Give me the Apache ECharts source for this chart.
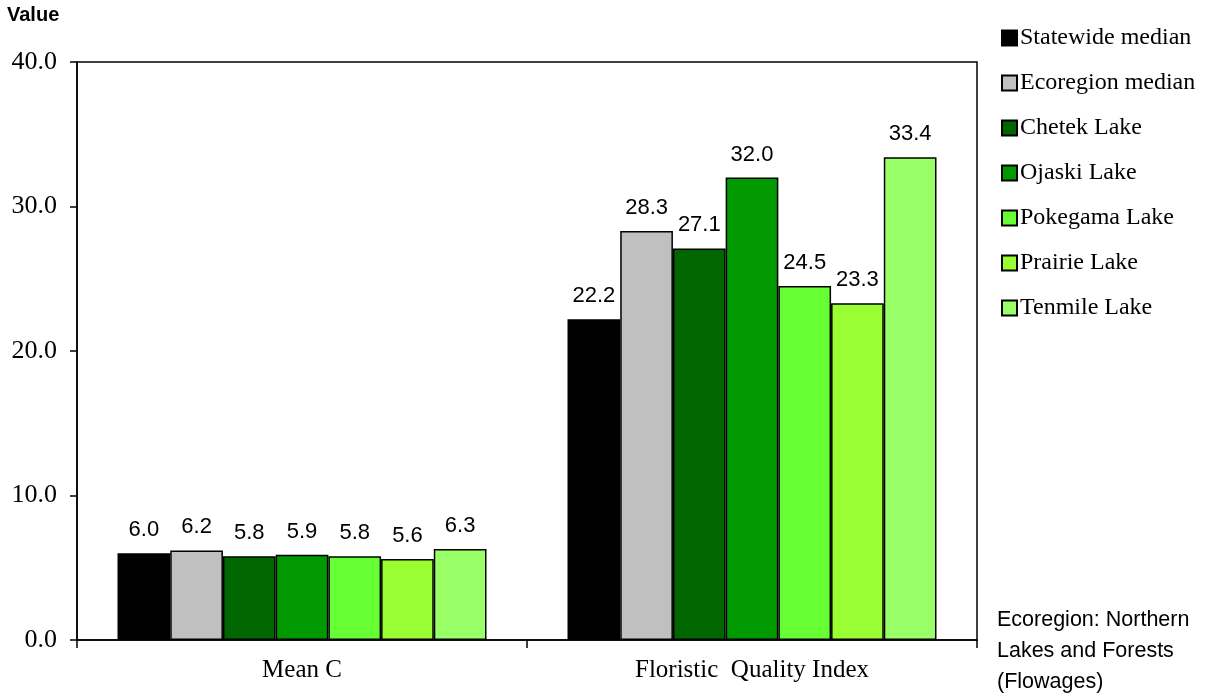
<!DOCTYPE html>
<html>
<head>
<meta charset="utf-8">
<script src="https://cdn.jsdelivr.net/npm/echarts@6/dist/echarts.min.js"></script>
<style>
  html, body { margin: 0; padding: 0; background: #fff; }
  #chart { width: 1220px; height: 694px; }
</style>
</head>
<body>
<div id="chart"></div>
<script>
// 类别与数据
const categories = ['Mean C', 'Floristic  Quality Index'];
const seriesNames = ['Statewide median', 'Ecoregion median', 'Chetek Lake', 'Ojaski Lake', 'Pokegama Lake', 'Prairie Lake', 'Tenmile Lake'];
const statewide = [6.0, 22.2];
const ecoregion = [6.2, 28.3];
const chetek = [5.8, 27.1];
const ojaski = [5.9, 32.0];
const pokegama = [5.8, 24.5];
const prairie = [5.6, 23.3];
const tenmile = [6.3, 33.4];
const yTicks = [0, 10, 20, 30, 40];

const seriesData = [statewide, ecoregion, chetek, ojaski, pokegama, prairie, tenmile];
const colors = ['#000000', '#c0c0c0', '#006600', '#009900', '#66ff33', '#99ff33', '#99ff66'];

const serif = '"Liberation Serif", "DejaVu Serif", serif';
const sans = '"Liberation Sans Narrow", "Liberation Sans", Arial, sans-serif';

const chart = echarts.init(document.getElementById('chart'));

const option = {
    animation: false,
    color: colors,
    grid: { left: 77, right: 243, top: 62, bottom: 54, show: true, borderColor: '#000', borderWidth: 1.5 },
    graphic: [
        { type: 'text', left: 7, top: 5, style: { text: 'Value', font: 'bold 20px ' + sans, fill: '#000' } },
        { type: 'text', left: 997, top: 605, style: { text: 'Ecoregion: Northern\nLakes and Forests\n(Flowages)', font: '21.5px ' + sans, lineHeight: 31, fill: '#000' } }
    ],
    legend: {
        orient: 'vertical',
        left: 996,
        top: 21,
        itemWidth: 15,
        itemHeight: 15,
        itemGap: 21,
        icon: 'rect',
        textStyle: { fontFamily: serif, fontSize: 24, color: '#000', padding: [0, 0, 0, -2] },
        data: seriesNames
    },
    xAxis: {
        type: 'category',
        data: categories,
        axisLine: { lineStyle: { color: '#000', width: 1.5 } },
        axisTick: { show: true, inside: false, length: 8, lineStyle: { color: '#000', width: 1.5 } },
        axisLabel: { fontFamily: serif, fontSize: 25, color: '#000', margin: 18 }
    },
    yAxis: {
        type: 'value',
        min: yTicks[0],
        max: yTicks[yTicks.length - 1],
        interval: 10,
        axisLine: { show: true, lineStyle: { color: '#000', width: 1.5 } },
        axisTick: { show: true, length: 7, lineStyle: { color: '#000', width: 1.5 } },
        splitLine: { show: false },
        axisLabel: {
            fontFamily: serif, fontSize: 26, color: '#000', margin: 20,
            formatter: v => v.toFixed(1)
        }
    },
    series: seriesNames.map((name, i) => ({
        name: name,
        type: 'bar',
        data: seriesData[i],
        barGap: '0%',
        barCategoryGap: '18%',
        itemStyle: { color: colors[i], borderColor: '#000', borderWidth: 1.5 },
        label: {
            show: true,
            position: 'top',
            distance: 12,
            fontFamily: sans,
            fontSize: 22,
            color: '#000',
            formatter: p => p.value.toFixed(1)
        }
    }))
};

chart.setOption(option);
</script>
</body>
</html>
